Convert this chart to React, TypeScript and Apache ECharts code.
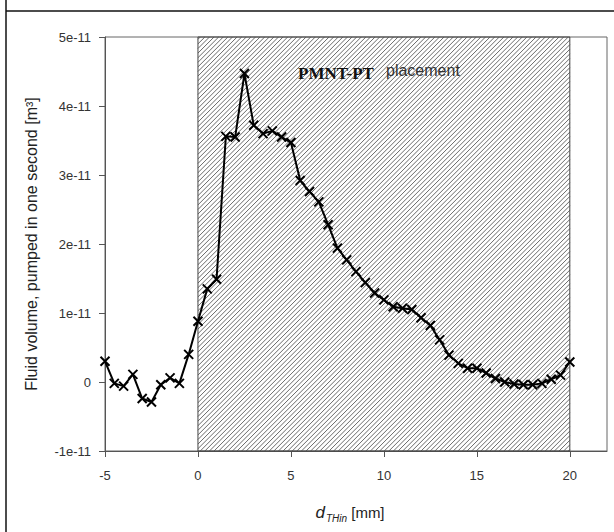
import React, { useEffect, useRef } from "react";
import * as echarts from "echarts";

// positions along d_THin [mm]
const xValues = [
  -5, -4.5, -4, -3.5, -3, -2.5, -2, -1.5, -1, -0.5,
  0, 0.5, 1, 1.5, 2, 2.5, 3, 3.5, 4, 4.5,
  5, 5.5, 6, 6.5, 7, 7.5, 8, 8.5, 9, 9.5,
  10, 10.5, 11, 11.5, 12, 12.5, 13, 13.5, 14, 14.5,
  15, 15.5, 16, 16.5, 17, 17.5, 18, 18.5, 19, 19.5, 20,
];
// fluid volume in units of 1e-11 m^3
const yValues = [
  0.30, -0.02, -0.06, 0.11, -0.24, -0.29, -0.04, 0.06, -0.02, 0.40,
  0.88, 1.35, 1.49, 3.56, 3.55, 4.47, 3.72, 3.60, 3.64, 3.55,
  3.47, 2.92, 2.76, 2.61, 2.28, 1.94, 1.77, 1.60, 1.44, 1.29,
  1.19, 1.09, 1.07, 1.05, 0.93, 0.82, 0.61, 0.39, 0.27, 0.20,
  0.20, 0.13, 0.05, 0.00, -0.03, -0.04, -0.04, -0.02, 0.04, 0.10, 0.29,
];
const placementRange = [0, 20];
const yTickLabels = ["-1e-11", "0", "1e-11", "2e-11", "3e-11", "4e-11", "5e-11"];
const xMin = -5;
const xMax = 22;
const yMin = -1;
const yMax = 5;

export default function App() {
  const ref = useRef<HTMLDivElement>(null);
  useEffect(() => {
    if (!ref.current) return;
    const chart = echarts.init(ref.current, null, { renderer: "svg" });
    const font = "'Liberation Sans', Arial, sans-serif";
    const lineData = xValues.map((x, i) => [x, yValues[i]]);
    chart.setOption({
      animation: false,
      backgroundColor: "#fff",
      grid: {
        left: 105,
        right: 7,
        top: 37,
        bottom: 81,
        show: true,
        borderColor: "#666",
        borderWidth: 1,
        backgroundColor: "transparent",
      },
      xAxis: {
        type: "value",
        min: xMin,
        max: xMax,
        interval: 5,
        name: "{d|d}{s|THin}{n| [mm]}",
        nameLocation: "middle",
        nameGap: 50,
        nameTextStyle: {
          padding: [0, 12, 0, 0],
          rich: {
            d: { fontFamily: font, fontStyle: "italic", fontSize: 17, color: "#222", lineHeight: 22, verticalAlign: "middle" },
            s: { fontFamily: font, fontStyle: "italic", fontSize: 10, color: "#222", lineHeight: 22, verticalAlign: "bottom", padding: [0, 0, 0, 1] },
            n: { fontFamily: font, fontSize: 15, color: "#222", lineHeight: 22, verticalAlign: "middle" },
          },
        },
        axisLine: { show: true, onZero: false, lineStyle: { color: "#555", width: 1 } },
        axisTick: { show: true, length: 6, lineStyle: { color: "#555" } },
        axisLabel: {
          fontFamily: font,
          fontSize: 13,
          color: "#333",
          margin: 18,
          showMaxLabel: false,
        },
        splitLine: { show: false },
      },
      yAxis: {
        type: "value",
        min: yMin,
        max: yMax,
        interval: 1,
        name: "Fluid volume, pumped in one second [m³]",
        nameLocation: "middle",
        nameGap: 66,
        nameTextStyle: { fontFamily: font, fontSize: 16, color: "#222" },
        axisLine: { show: true, onZero: false, lineStyle: { color: "#555", width: 1 } },
        axisTick: { show: true, length: 6, lineStyle: { color: "#555" } },
        axisLabel: {
          fontFamily: font,
          fontSize: 13,
          color: "#333",
          margin: 14,
          formatter: (v: number) => yTickLabels[Math.round(v - yMin)] ?? "",
        },
        splitLine: { show: false },
      },
      graphic: [
        { type: "line", shape: { x1: 6, y1: 0, x2: 6, y2: 532 }, style: { stroke: "#111", lineWidth: 1.5 } },
        { type: "line", shape: { x1: 6, y1: 11, x2: 614, y2: 11 }, style: { stroke: "#111", lineWidth: 1.5 } },
        {
          type: "text",
          x: 298,
          y: 73,
          z: 10,
          style: {
            text: "PMNT-PT",
            font: "bold 17px 'Liberation Serif', 'Times New Roman', serif",
            fill: "#111",
            verticalAlign: "middle",
          },
        },
        {
          type: "text",
          x: 386,
          y: 70,
          z: 10,
          style: {
            text: "placement",
            font: "16px 'Liberation Sans', Arial, sans-serif",
            fill: "#333",
            verticalAlign: "middle",
          },
        },
      ],
      series: [
        {
          type: "custom",
          silent: true,
          z: 1,
          data: [[placementRange[0], placementRange[1], yMin, yMax]],
          renderItem: (params: any, api: any) => {
            const p0 = api.coord([api.value(0), api.value(3)]);
            const p1 = api.coord([api.value(1), api.value(2)]);
            const x0 = p0[0], y0 = p0[1], x1 = p1[0], y1 = p1[1];
            const step = 4.6;
            let d = "";
            for (let c = x0 + y0 + step / 2; c < x1 + y1; c += step) {
              const xa = Math.max(x0, c - y1);
              const xb = Math.min(x1, c - y0);
              if (xb <= xa) continue;
              d += `M${xa.toFixed(2)} ${(c - xa).toFixed(2)}L${xb.toFixed(2)} ${(c - xb).toFixed(2)}`;
            }
            return {
              type: "group",
              children: [
                { type: "path", shape: { pathData: d }, style: { stroke: "#6a6a6a", lineWidth: 1, fill: "none" } },
                {
                  type: "rect",
                  shape: { x: x0, y: y0, width: x1 - x0, height: y1 - y0 },
                  style: { stroke: "#444", lineWidth: 1, fill: "none" },
                },
              ],
            };
          },
        },
        {
          type: "line",
          z: 5,
          data: lineData,
          lineStyle: { color: "#000", width: 2 },
          symbol: "path://M0,0L10,10M10,0L0,10",
          symbolSize: 9,
          showSymbol: true,
          itemStyle: { color: "#000", borderColor: "#000", borderWidth: 2 },
        },
      ],
    });
    return () => chart.dispose();
  }, []);
  return (
    <div
      ref={ref}
      style={{ position: "fixed", left: 0, top: 0, width: 614, height: 532 }}
    />
  );
}
